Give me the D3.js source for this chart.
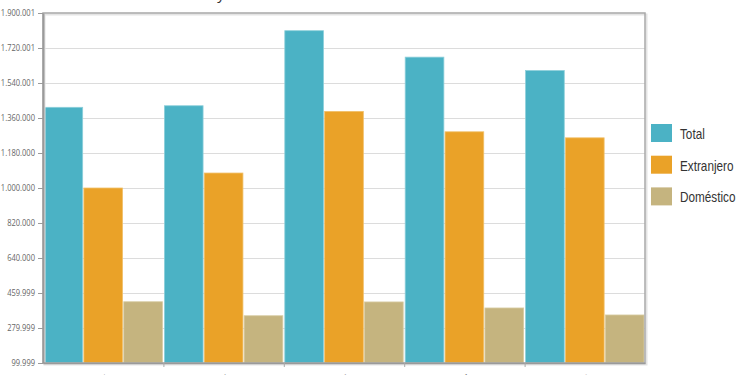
<!DOCTYPE html>
<html>
<head>
<meta charset="utf-8">
<script src="https://cdn.jsdelivr.net/npm/d3@7"></script>
<style>
  body { margin: 0; background: #fff; }
  svg { display: block; }
</style>
</head>
<body>
<figure id="chart" style="margin:0"></figure>
<script>
// chart values
const categories = ["2014", "2015", "2016", "2017", "2018"];
const seriesNames = ["Total", "Extranjero", "Doméstico"];
const totalValues = [1415000, 1423000, 1809000, 1673000, 1604000];
const foreignValues = [1000000, 1077000, 1394000, 1289000, 1258000];
const domesticValues = [415000, 343000, 414000, 383000, 347000];
const tickValues = [99999, 279999, 459999, 640000, 820000, 1000000, 1180000, 1360000, 1540001, 1720001, 1900001];
const tickLabels = ["99.999", "279.999", "459.999", "640.000", "820.000", "1.000.000", "1.180.000", "1.360.000", "1.540.001", "1.720.001", "1.900.001"];
const titleText = "Turistas internacionales y nacionales";

const colors = ["#4bb2c5", "#eaa228", "#c5b47f"];
const strokes = ["#8ccfda", "#f1c06a", "#d8cba3"];

const width = 750, height = 375;
const plotLeft = 43, plotRight = 645, plotTop = 13, plotBottom = 363;
const squeeze = 0.84; // the picture's text is a bit narrow

const svg = d3.select("figure#chart").append("svg")
  .attr("width", width)
  .attr("height", height);

const yScale = d3.scaleLinear()
  .domain([tickValues[0], tickValues[tickValues.length - 1]])
  .range([plotBottom, plotTop]);

const xScale = d3.scaleBand()
  .domain(categories)
  .range([plotLeft, plotRight])
  .padding(0);

const inner = d3.scaleBand()
  .domain(seriesNames)
  .range([1, xScale.bandwidth() - 1])
  .paddingInner(0.03);

// grid lines
svg.append("g")
  .selectAll("line")
  .data(tickValues.slice(1, -1))
  .enter()
  .append("line")
  .attr("x1", plotLeft)
  .attr("x2", plotRight)
  .attr("y1", (d) => Math.round(yScale(d)) + 0.5)
  .attr("y2", (d) => Math.round(yScale(d)) + 0.5)
  .attr("stroke", "#dcdcdc");

// bars
const table = categories.map((c, i) => ({
  name: c,
  values: [totalValues[i], foreignValues[i], domesticValues[i]]
}));

const groups = svg.append("g")
  .selectAll(".group")
  .data(table)
  .enter()
  .append("g")
  .attr("transform", (d) => "translate(" + xScale(d.name) + ",0)");

groups.selectAll("rect")
  .data((d) => d.values.map((v, j) => ({ series: seriesNames[j], idx: j, value: v })))
  .enter()
  .append("rect")
  .attr("x", (d) => inner(d.series))
  .attr("y", (d) => yScale(d.value))
  .attr("width", inner.bandwidth())
  .attr("height", (d) => plotBottom - yScale(d.value))
  .attr("fill", (d) => colors[d.idx])
  .attr("stroke", (d) => strokes[d.idx])
  .attr("stroke-width", 0.8);

// frame: top and right border with soft shadow
svg.append("rect")
  .attr("x", plotLeft + 1.5)
  .attr("y", plotTop + 1.5)
  .attr("width", plotRight - plotLeft)
  .attr("height", plotBottom - plotTop)
  .attr("fill", "none")
  .attr("stroke", "#e4e4e4")
  .attr("stroke-width", 2);
svg.append("rect")
  .attr("x", plotLeft)
  .attr("y", plotTop)
  .attr("width", plotRight - plotLeft)
  .attr("height", plotBottom - plotTop)
  .attr("fill", "none")
  .attr("stroke", "#a8a8a8")
  .attr("stroke-width", 1.5);

// y axis
const yAxisGenerator = d3.axisLeft(yScale)
  .tickValues(tickValues)
  .tickFormat((d, i) => tickLabels[i])
  .tickSizeInner(5)
  .tickSizeOuter(0)
  .tickPadding(3);

const yAxis = svg.append("g")
  .attr("transform", "translate(" + plotLeft + ",0)")
  .call(yAxisGenerator);
yAxis.select(".domain").attr("stroke", "#9a9a9a").attr("stroke-width", 2);
yAxis.selectAll(".tick line").attr("stroke", "#9a9a9a");
yAxis.selectAll(".tick text")
  .attr("fill", "#666")
  .attr("font-family", "'Open Sans', sans-serif")
  .attr("font-size", "9px")
  .attr("x", -8 / squeeze)
  .attr("transform", "scale(" + squeeze + ",1)");

// x axis (labels sit below the picture's edge)
const xAxisGenerator = d3.axisBottom(xScale).tickSize(0).tickPadding(0);
const xAxis = svg.append("g")
  .attr("transform", "translate(0," + plotBottom + ")")
  .call(xAxisGenerator);
xAxis.select(".domain").attr("stroke", "#9a9a9a").attr("stroke-width", 1.5);
xAxis.selectAll(".tick text")
  .attr("fill", "#666")
  .attr("font-family", "'Open Sans', sans-serif")
  .attr("font-size", "9px")
  .attr("text-anchor", "end")
  .attr("dy", "0")
  .attr("transform", "translate(6,16) rotate(-35)");

// group separator ticks
svg.append("g")
  .selectAll("line")
  .data(categories.slice(1))
  .enter()
  .append("line")
  .attr("x1", (d) => xScale(d) + 0.5)
  .attr("x2", (d) => xScale(d) + 0.5)
  .attr("y1", plotBottom)
  .attr("y2", plotBottom + 4)
  .attr("stroke", "#aaa");

// title, mostly above the picture's top edge
const title = svg.append("text")
  .attr("x", 0)
  .attr("y", -1)
  .attr("font-family", "'Open Sans', sans-serif")
  .attr("font-size", "15px")
  .attr("fill", "#333")
  .text(titleText);
const yPos = titleText.indexOf(" y ") + 1;
const off = title.node().getSubStringLength(0, yPos) + title.node().getSubStringLength(yPos, 1) / 2;
title.attr("x", 221 - off);

// legend
const legend = svg.append("g")
  .attr("transform", "translate(651,124)");
const items = legend.selectAll("g")
  .data(seriesNames)
  .enter()
  .append("g")
  .attr("transform", (d, i) => "translate(0," + i * 31.7 + ")");
items.append("rect")
  .attr("width", 21)
  .attr("height", 18)
  .attr("fill", (d, i) => colors[i]);
items.append("text")
  .attr("transform", "translate(29,0) scale(" + squeeze + ",1)")
  .attr("y", 10)
  .attr("dy", "0.35em")
  .attr("font-family", "'Liberation Sans', Arial, sans-serif")
  .attr("font-size", "14px")
  .attr("fill", "#333")
  .text((d) => d);
</script>
</body>
</html>
